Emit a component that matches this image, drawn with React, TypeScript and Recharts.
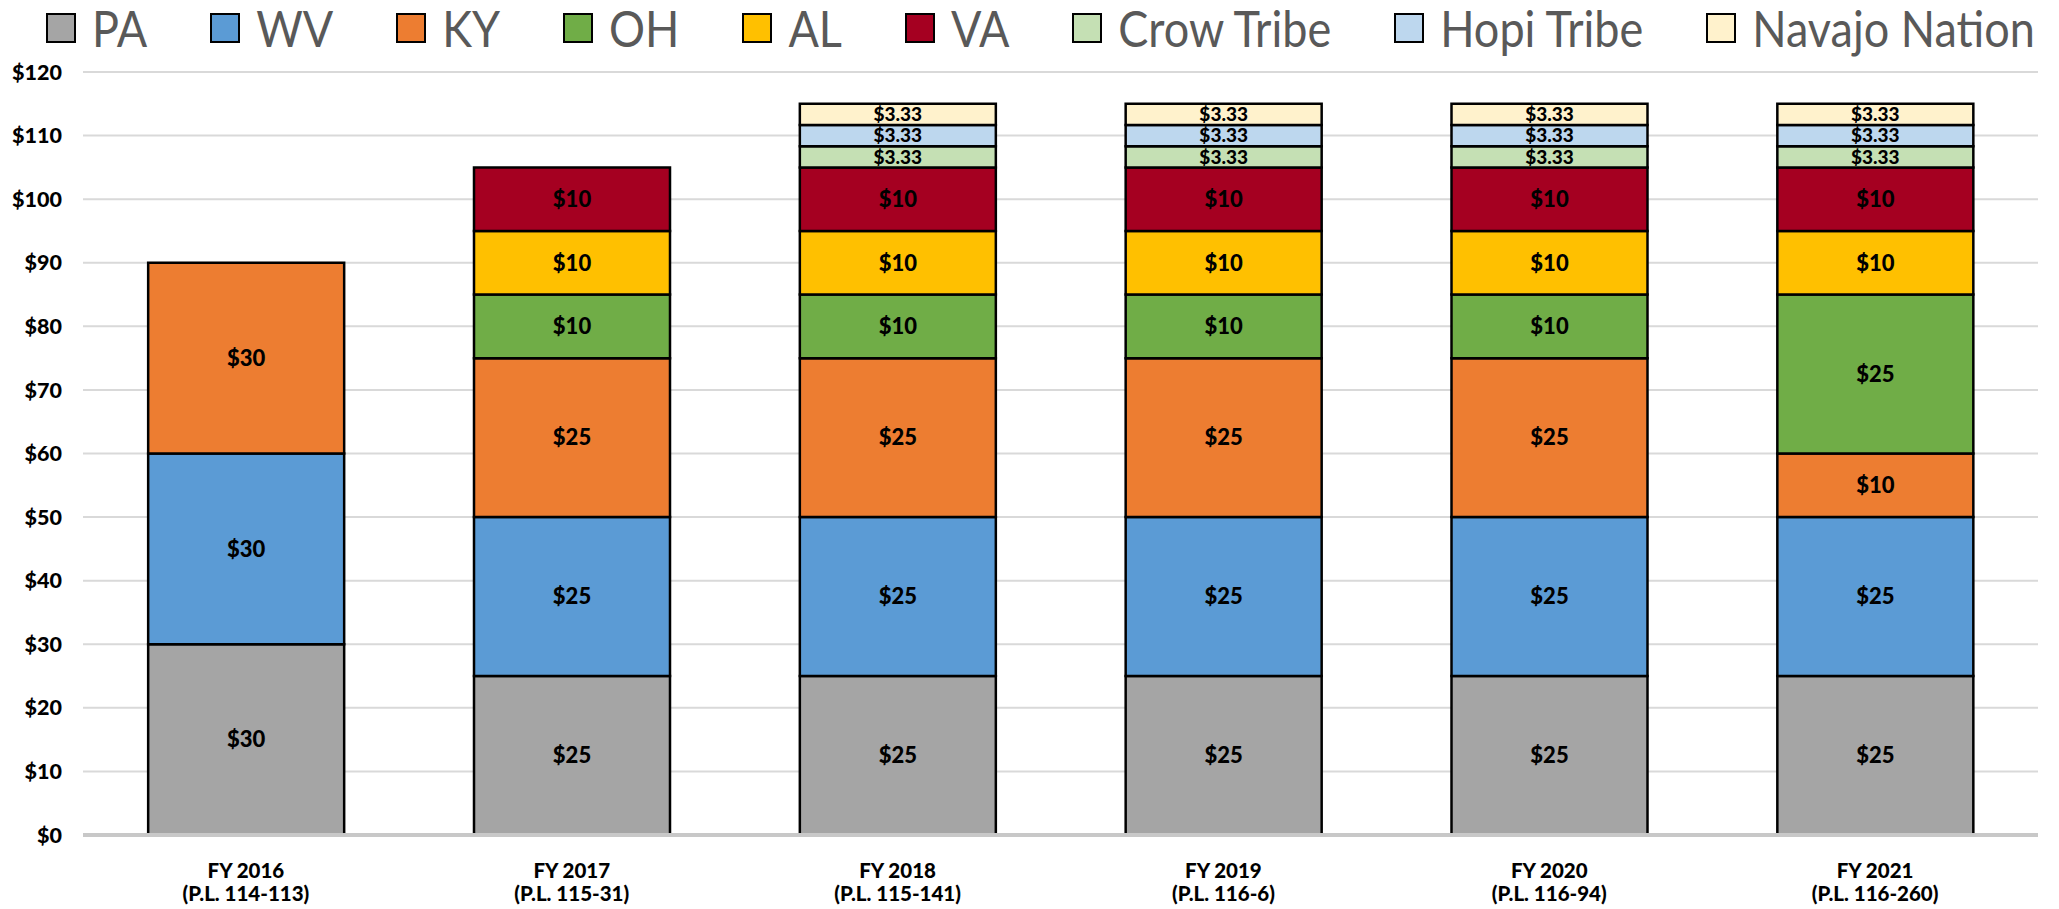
import { BarChart, Bar, XAxis, YAxis, CartesianGrid, Legend, LabelList } from 'recharts'

const years = ['FY 2016', 'FY 2017', 'FY 2018', 'FY 2019', 'FY 2020', 'FY 2021']
const laws = ['(P.L. 114-113)', '(P.L. 115-31)', '(P.L. 115-141)', '(P.L. 116-6)', '(P.L. 116-94)', '(P.L. 116-260)']

const pa = [30, 25, 25, 25, 25, 25]
const wv = [30, 25, 25, 25, 25, 25]
const ky = [30, 25, 25, 25, 25, 10]
const oh = [null, 10, 10, 10, 10, 25]
const al = [null, 10, 10, 10, 10, 10]
const va = [null, 10, 10, 10, 10, 10]
const crow = [null, null, 3.33, 3.33, 3.33, 3.33]
const hopi = [null, null, 3.33, 3.33, 3.33, 3.33]
const navajo = [null, null, 3.33, 3.33, 3.33, 3.33]

const seriesNames = ['PA', 'WV', 'KY', 'OH', 'AL', 'VA', 'Crow Tribe', 'Hopi Tribe', 'Navajo Nation']
const seriesValues = [pa, wv, ky, oh, al, va, crow, hopi, navajo]
const seriesColors = ['#a5a5a5', '#5b9bd5', '#ed7d31', '#70ad47', '#ffc000', '#a50021', '#c5e0b4', '#bdd7ee', '#fff2cc']

const yTicks = [0, 10, 20, 30, 40, 50, 60, 70, 80, 90, 100, 110, 120]

const data = years.map((year, i) => {
  const row: Record<string, string | number | null> = { year }
  seriesNames.forEach((name, s) => {
    row[name] = seriesValues[s][i]
  })
  return row
})

function YearTick(props: any) {
  const { x, y, payload, index } = props
  return (
    <g transform={`translate(${x},${y})`}>
      <text textAnchor="middle" fontFamily="Lato" fontWeight={900} fontSize={20.5} fill="#000">
        <tspan x={0} dy={43}>{payload.value}</tspan>
        <tspan x={0} dy={23}>{laws[index]}</tspan>
      </text>
    </g>
  )
}

function LegendRow() {
  return (
    <div style={{ display: 'flex', justifyContent: 'space-between', alignItems: 'center', height: 56, paddingLeft: 46, paddingRight: 24, boxSizing: 'border-box', width: 2059 }}>
      {seriesNames.map((name, i) => (
        <div key={name} style={{ display: 'flex', alignItems: 'center' }}>
          <span style={{ width: 26, height: 26, background: seriesColors[i], border: '2px solid #000', marginRight: 16, display: 'inline-block' }} />
          <span style={{ fontFamily: 'Lato', fontSize: 45, color: '#595959', lineHeight: '56px', display: 'inline-block', transform: 'scaleY(1.12)' }}>{name}</span>
        </div>
      ))}
    </div>
  )
}

export default function App() {
  return (
    <div style={{ position: 'absolute', left: 0, top: 0, background: '#fff' }}>
      <BarChart width={2059} height={909} data={data} barCategoryGap="20%" margin={{ top: 16, right: 21, left: 0, bottom: 0 }}>
        <CartesianGrid vertical={false} stroke="#d9d9d9" strokeWidth={2} />
        <XAxis
          dataKey="year"
          height={74}
          tickLine={false}
          tickSize={0}
          tickMargin={0}
          axisLine={{ stroke: '#c8c8c8', strokeWidth: 4 }}
          tick={<YearTick />}
          interval={0}
        />
        <YAxis
          width={83}
          domain={[0, 120]}
          ticks={yTicks}
          axisLine={false}
          tickLine={false}
          tickSize={0}
          tickMargin={21}
          tickFormatter={(v: number) => `$${v}`}
          tick={{ fill: '#000', fontFamily: 'Lato', fontWeight: 900, fontSize: 21.5 }}
        />
        <Legend verticalAlign="top" align="left" content={<LegendRow />} wrapperStyle={{ top: 0, left: 0 }} />
        {seriesNames.map((name, i) => (
          <Bar key={name} dataKey={name} stackId="a" fill={seriesColors[i]} stroke="#000" strokeWidth={2.5} isAnimationActive={false}>
            <LabelList
              dataKey={name}
              position="center"
              formatter={(v: any) => (v == null ? '' : `$${v}`)}
              fill="#000"
              fontFamily="Lato"
              fontWeight={900}
              fontSize={i >= 6 ? 19 : 22}
            />
          </Bar>
        ))}
      </BarChart>
    </div>
  )
}
